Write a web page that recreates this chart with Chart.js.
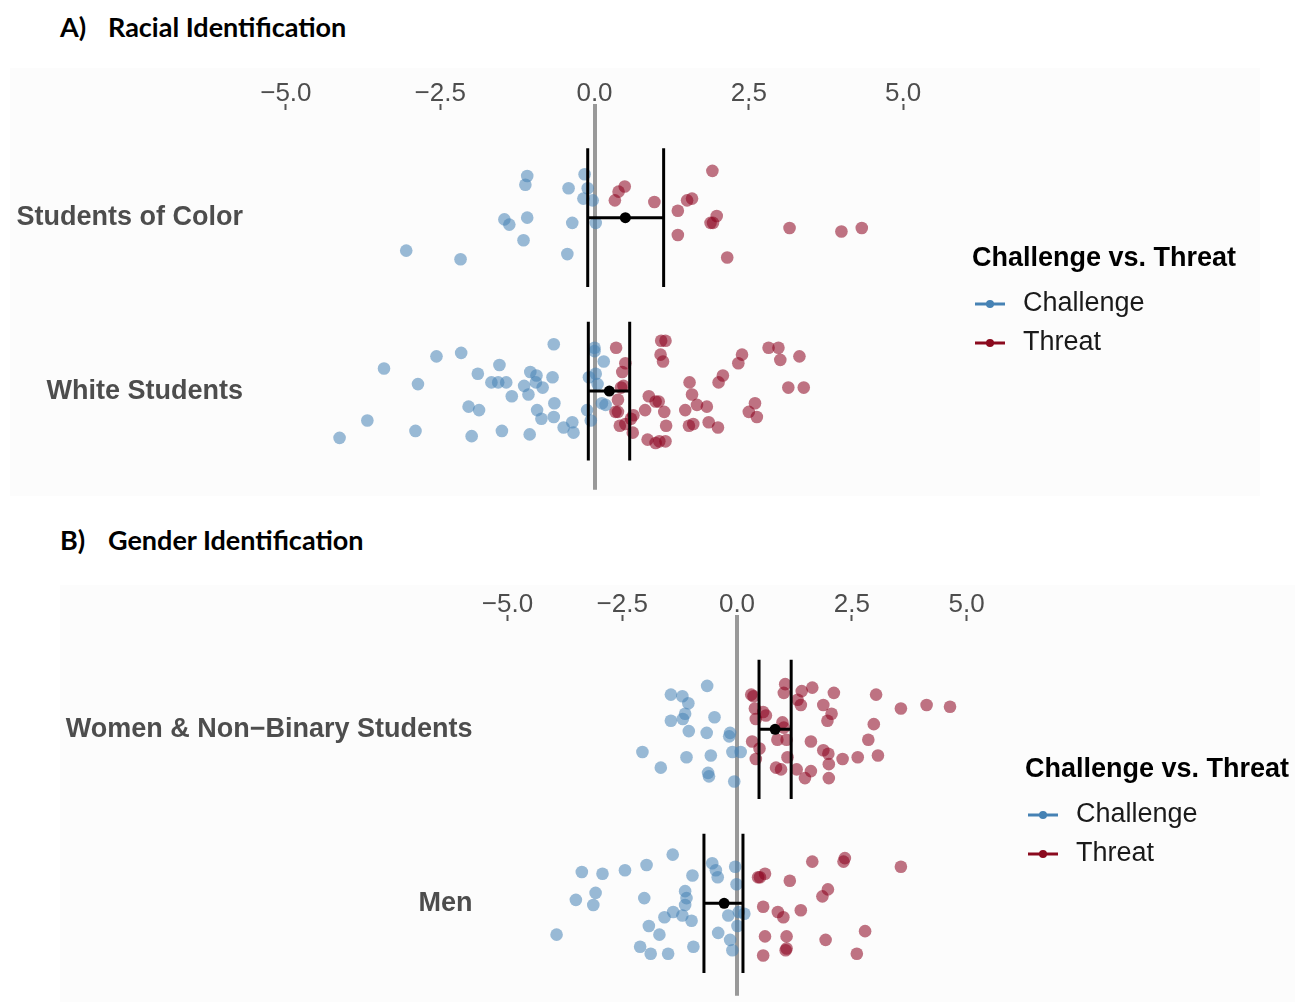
<!DOCTYPE html>
<html>
<head>
<meta charset="utf-8">
<script src="https://cdn.jsdelivr.net/npm/chart.js@4"></script>
<style>
body { margin:0; background:#fff; width:1295px; height:1002px; overflow:hidden; position:relative; }
.head { position:absolute; font-family: Lato, "Liberation Sans", sans-serif; font-weight:bold; font-size:27px; line-height:30px; color:#000; }
.panel { position:absolute; background:#fcfcfc; }
</style>
</head>
<body>
<div class="head" style="left:60px; top:12px">A)</div>
<div class="head" style="left:108px; top:12px">Racial Identification</div>
<div class="head" style="left:60px; top:525px">B)</div>
<div class="head" style="left:108px; top:525px">Gender Identification</div>

<div class="panel" style="left:10px; top:68px; width:1250px; height:428px"><canvas id="racialChart"></canvas></div>
<div class="panel" style="left:60px; top:585px; width:1235px; height:417px"><canvas id="genderChart"></canvas></div>

<script>
/* shared axis + legend text */
var xTicks = [-5, -2.5, 0, 2.5, 5];
var legendTitle = 'Challenge vs. Threat';
var legendLabels = ['Challenge', 'Threat'];

/* A) racial identification: [score, jitter] per student */
var racialGroups = ['Students of Color', 'White Students'];
var socChallenge = [[-0.16,0.25],[-1.09,0.24],[-1.12,0.19],[-0.42,0.17],[-0.11,0.17],[-0.18,0.11],[-0.03,0.10],[-1.46,-0.01],
    [-1.38,-0.04],[-1.09,0.00],[-0.36,-0.03],[0.02,-0.03],[-1.15,-0.13],[-3.05,-0.19],[-2.17,-0.24],[-0.44,-0.21]];
var socThreat = [[1.91,0.27],[0.49,0.18],[0.39,0.15],[0.33,0.10],[0.97,0.09],[1.58,0.11],[1.50,0.10],[1.35,0.04],
    [1.98,0.01],[1.92,-0.03],[1.88,-0.03],[3.16,-0.06],[4.00,-0.08],[4.33,-0.06],[1.35,-0.10],[2.15,-0.23]];
var whiteChallenge = [[-0.66,0.27],[-2.16,0.22],[-2.56,0.20],[-3.41,0.13],[-1.54,0.15],[-1.89,0.10],[-1.04,0.11],[-0.94,0.09],
    [-0.68,0.08],[-2.86,0.04],[-1.67,0.05],[-1.56,0.05],[-1.43,0.05],[-0.95,0.05],[-1.14,0.03],[-0.84,0.02],
    [-1.34,-0.03],[-1.07,-0.02],[-0.65,-0.07],[-2.04,-0.09],[-1.87,-0.11],[-0.93,-0.11],[-3.68,-0.17],[-0.86,-0.16],
    [-0.66,-0.15],[-0.36,-0.18],[-0.50,-0.21],[-0.34,-0.24],[-2.90,-0.23],[-1.50,-0.23],[-1.05,-0.25],[-1.99,-0.26],
    [-4.13,-0.27],[0.00,0.25],[0.00,0.23],[0.15,0.17],[-0.09,0.08],[0.02,0.10],[0.05,0.04],[0.12,-0.07],
    [0.18,-0.08],[-0.12,-0.11],[-0.06,-0.17]];
var whiteThreat = [[0.35,0.25],[1.08,0.29],[1.15,0.29],[1.07,0.21],[1.11,0.17],[0.50,0.16],[0.45,0.11],[2.39,0.21],
    [2.33,0.16],[2.82,0.25],[2.98,0.25],[3.01,0.18],[3.32,0.20],[2.08,0.09],[2.01,0.05],[1.54,0.05],
    [0.47,0.03],[0.43,0.02],[3.14,0.02],[3.39,0.02],[1.58,-0.02],[0.38,-0.05],[0.88,-0.03],[0.99,-0.06],
    [1.04,-0.06],[1.66,-0.08],[1.82,-0.09],[2.60,-0.07],[0.82,-0.11],[1.13,-0.12],[1.47,-0.11],[0.34,-0.12],
    [0.38,-0.12],[2.50,-0.12],[2.63,-0.15],[0.63,-0.14],[0.59,-0.16],[0.41,-0.20],[0.50,-0.19],[1.16,-0.20],
    [1.53,-0.20],[1.60,-0.19],[1.85,-0.18],[2.00,-0.21],[0.62,-0.24],[0.86,-0.28],[0.99,-0.30],[1.05,-0.29],
    [1.15,-0.29]];
var racialMean = [0.50, 0.24];
var racialLow = [-0.11, -0.10];
var racialHigh = [1.12, 0.57];

/* B) gender identification */
var genderGroups = ['Women & Non\u2212Binary Students', 'Men'];
var womenChallenge = [[-0.65,0.25],[-1.44,0.20],[-1.19,0.19],[-1.06,0.15],[-1.13,0.09],[-1.18,0.06],[-1.44,0.05],[-0.49,0.07],
    [-1.05,-0.01],[-0.66,-0.02],[-0.15,-0.02],[-0.17,-0.04],[-2.06,-0.13],[-1.10,-0.16],[-0.57,-0.15],[-0.10,-0.13],
    [0.08,-0.13],[-1.66,-0.22],[-0.63,-0.25],[-0.61,-0.27],[-0.06,-0.30]];
var womenThreat = [[1.05,0.26],[1.02,0.21],[1.41,0.22],[1.64,0.24],[2.11,0.21],[0.31,0.20],[0.36,0.19],[1.32,0.17],
    [1.39,0.14],[1.88,0.14],[3.03,0.20],[3.57,0.12],[4.13,0.14],[4.64,0.13],[0.39,0.12],[0.57,0.10],
    [0.63,0.08],[0.41,0.06],[2.06,0.09],[1.97,0.05],[0.99,0.04],[1.02,0.01],[2.98,0.03],[0.33,-0.07],
    [0.88,-0.06],[1.08,-0.06],[1.61,-0.07],[2.86,-0.06],[0.49,-0.11],[1.88,-0.12],[1.99,-0.14],[2.30,-0.17],
    [2.63,-0.16],[3.07,-0.15],[0.41,-0.17],[1.10,-0.16],[0.85,-0.22],[0.96,-0.23],[1.30,-0.23],[1.61,-0.24],
    [1.48,-0.28],[2.00,-0.20],[2.00,-0.28]];
var menChallenge = [[-1.40,0.28],[-1.97,0.22],[-2.44,0.19],[-2.93,0.17],[-3.38,0.18],[-0.97,0.16],[-0.54,0.23],[-0.46,0.19],
    [-0.42,0.15],[-0.04,0.21],[-0.01,0.11],[-3.08,0.06],[-3.51,0.02],[-3.13,-0.01],[-2.02,0.03],[-1.13,0.07],
    [-1.10,0.03],[-1.13,-0.01],[-1.39,-0.05],[-1.58,-0.08],[-1.19,-0.07],[-0.99,-0.10],[-0.19,-0.07],[0.04,-0.05],
    [0.16,-0.06],[-1.92,-0.13],[-1.69,-0.18],[-0.41,-0.17],[0.01,-0.13],[-0.15,-0.21],[-3.93,-0.18],[-2.11,-0.25],
    [-1.88,-0.29],[-1.50,-0.29],[-0.95,-0.25],[-0.10,-0.27]];
var menThreat = [[1.64,0.24],[2.32,0.24],[2.35,0.26],[3.57,0.21],[0.61,0.17],[0.46,0.15],[0.50,0.15],[1.15,0.13],
    [1.98,0.08],[1.86,0.04],[0.57,-0.02],[0.89,-0.05],[1.01,-0.08],[1.39,-0.04],[2.79,-0.16],[0.61,-0.19],
    [1.08,-0.19],[1.93,-0.21],[1.08,-0.26],[1.06,-0.27],[0.57,-0.30],[2.61,-0.29]];
var genderMean = [0.83, -0.28];
var genderLow = [0.48, -0.72];
var genderHigh = [1.18, 0.13];

var challengeColor = '#4682B4';
var threatColor = '#8B0A1E';
var challengeFill = 'rgba(70,130,180,0.55)';
var threatFill = 'rgba(139,0,30,0.55)';

Chart.defaults.font.family = '"Liberation Sans", Arial, sans-serif';

/* draws the ggplot style legend at the right */
var sideLegend = {
    id: 'sideLegend',
    afterDraw: function(chart, args, o) {
        var ctx = chart.ctx;
        var colors = [challengeColor, threatColor];
        ctx.save();
        ctx.textBaseline = 'middle';
        ctx.textAlign = 'left';
        ctx.fillStyle = '#000';
        ctx.font = 'bold 27px "Liberation Sans", Arial';
        ctx.fillText(legendTitle, o.x, o.y);
        for (var i = 0; i < legendLabels.length; i++) {
            var y = o.y + 45 + i * 39;
            ctx.strokeStyle = colors[i];
            ctx.lineWidth = 3;
            ctx.beginPath();
            ctx.moveTo(o.x + 3, y);
            ctx.lineTo(o.x + 33, y);
            ctx.stroke();
            ctx.fillStyle = colors[i];
            ctx.beginPath();
            ctx.arc(o.x + 18, y, 4, 0, Math.PI * 2);
            ctx.fill();
            ctx.fillStyle = '#1a1a1a';
            ctx.font = '27px "Liberation Sans", Arial';
            ctx.fillText(legendLabels[i], o.x + 51, y);
        }
        ctx.restore();
    }
};

function toPoints(list, center) {
    return list.map(function(p) { return { x: p[0], y: center + p[1] }; });
}

function fmtTick(v) {
    return (v < 0 ? '\u2212' : '') + Math.abs(v).toFixed(1);
}

function drawPanel(canvasId, groups, challenge, threat, mean, low, high, cfg) {
    var datasets = [];
    var centers = [2, 1];
    for (var g = 0; g < groups.length; g++) {
        var c = centers[g];
        var bar = { showLine: true, borderColor: '#000', borderWidth: 3, pointRadius: 0, order: 0 };
        datasets.push(Object.assign({ data: [{x: low[g], y: c - 0.4}, {x: low[g], y: c + 0.4}] }, bar));
        datasets.push(Object.assign({ data: [{x: high[g], y: c - 0.4}, {x: high[g], y: c + 0.4}] }, bar));
        datasets.push(Object.assign({ data: [{x: low[g], y: c}, {x: high[g], y: c}] }, bar));
        datasets.push({ data: [{x: mean[g], y: c}], pointRadius: 5.5, backgroundColor: '#000', borderWidth: 0, order: 0 });
        datasets.push({ data: toPoints(challenge[g], c), pointRadius: 6.3, backgroundColor: challengeFill, borderWidth: 0, order: 1 });
        datasets.push({ data: toPoints(threat[g], c), pointRadius: 6.3, backgroundColor: threatFill, borderWidth: 0, order: 1 });
    }

    var ctx = document.getElementById(canvasId).getContext('2d');
    return new Chart(ctx, {
        type: 'scatter',
        data: { datasets: datasets },
        plugins: [sideLegend],
        options: {
            responsive: true,
            maintainAspectRatio: false,
            animation: false,
            layout: { padding: { left: 0, right: cfg.padRight, top: 0, bottom: 0 } },
            plugins: {
                legend: { display: false },
                tooltip: { enabled: false },
                sideLegend: { x: cfg.legendX, y: cfg.legendY }
            },
            scales: {
                x: {
                    type: 'linear',
                    position: 'top',
                    min: -5.5,
                    max: 5.5,
                    afterBuildTicks: function(s) { s.ticks = xTicks.map(function(v) { return {value: v}; }); },
                    afterFit: function(s) { s.height = cfg.xHeight; s.paddingLeft = 0; s.paddingRight = 0; },
                    border: { display: false },
                    grid: {
                        color: function(c) { return c.tick && c.tick.value === 0 ? '#999999' : 'rgba(0,0,0,0)'; },
                        lineWidth: function(c) { return c.tick && c.tick.value === 0 ? 4 : 1; },
                        tickColor: function(c) { return c.tick && c.tick.value === 0 ? '#999999' : '#555555'; },
                        tickWidth: function(c) { return c.tick && c.tick.value === 0 ? 4 : 2; },
                        tickLength: 6
                    },
                    ticks: {
                        padding: -5,
                        autoSkip: false,
                        maxRotation: 0,
                        color: '#4d4d4d',
                        font: { size: 26 },
                        callback: fmtTick
                    }
                },
                y: {
                    type: 'linear',
                    min: cfg.yMin,
                    max: cfg.yMax,
                    afterBuildTicks: function(s) { s.ticks = [{value: 2}, {value: 1}]; },
                    afterFit: function(s) { s.width = cfg.yWidth; s.paddingTop = 0; s.paddingBottom = 0; },
                    border: { display: false },
                    grid: { display: false, drawTicks: false },
                    ticks: {
                        padding: 12,
                        color: '#4d4d4d',
                        font: { size: 27, weight: 'bold' },
                        callback: function(v) { return v === 2 ? groups[0] : (v === 1 ? groups[1] : ''); }
                    }
                }
            }
        }
    });
}

drawPanel('racialChart', racialGroups, [socChallenge, whiteChallenge], [socThreat, whiteThreat],
    racialMean, racialLow, racialHigh,
    { yWidth: 245, padRight: 326, xHeight: 42, yMin: 0.431, yMax: 2.621, legendX: 962, legendY: 191 });

drawPanel('genderChart', genderGroups, [womenChallenge, menChallenge], [womenThreat, menThreat],
    genderMean, genderLow, genderHigh,
    { yWidth: 424.5, padRight: 305.5, xHeight: 36, yMin: 0.469, yMax: 2.623, legendX: 965, legendY: 185 });
</script>
</body>
</html>
